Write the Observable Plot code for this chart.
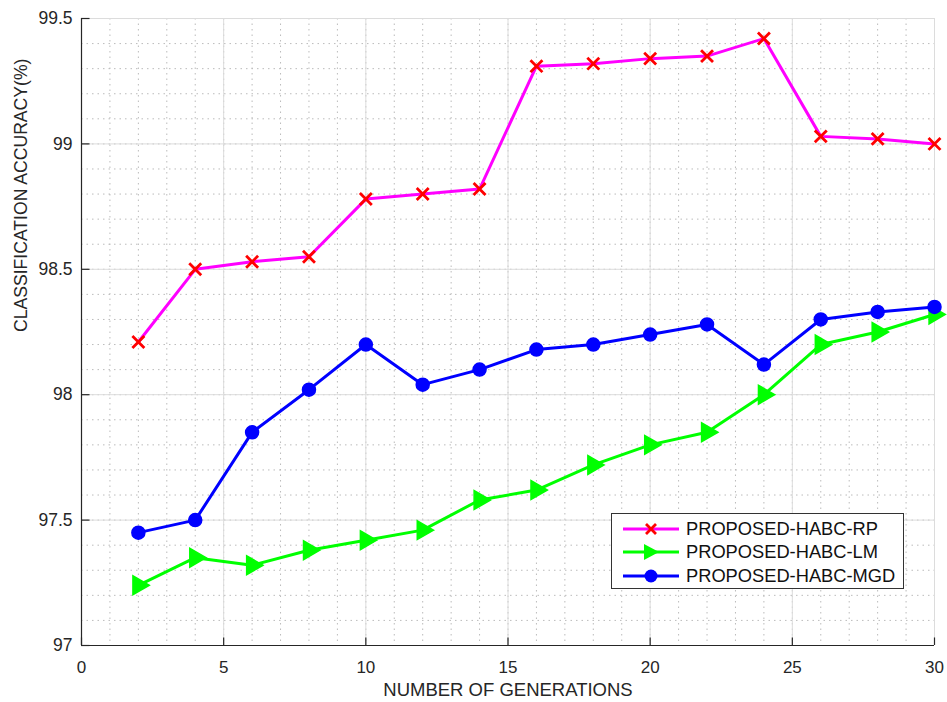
<!DOCTYPE html>
<html>
<head>
<meta charset="utf-8">
<script src="https://cdn.jsdelivr.net/npm/d3@7"></script>
<script src="https://cdn.jsdelivr.net/npm/@observablehq/plot@0.6"></script>
<style>
  html, body { margin: 0; padding: 0; background: #fff; }
  #wrap { position: relative; width: 947px; height: 702px; font-family: "Liberation Sans", Arial, sans-serif; }
  #legend { position: absolute; left: 611px; top: 513px; width: 293px; height: 76px; border: 1px solid #333; background: #fff; box-sizing: border-box; padding-top: 3px; }
  .li { display: flex; align-items: center; height: 23.5px; font-size: 18.3px; color: #111; white-space: nowrap; }
  .li svg { margin-left: 11px; margin-right: 7px; flex: none; }
</style>
</head>
<body>
<div id="wrap"></div>
<script>
const generations = [2,4,6,8,10,12,14,16,18,20,22,24,26,28,30];
const rp  = [98.21,98.50,98.53,98.55,98.78,98.80,98.82,99.31,99.32,99.34,99.35,99.42,99.03,99.02,99.00];
const lm  = [97.24,97.35,97.32,97.38,97.42,97.46,97.58,97.62,97.72,97.80,97.85,98.00,98.20,98.25,98.32];
const mgd = [97.45,97.50,97.85,98.02,98.20,98.04,98.10,98.18,98.20,98.24,98.28,98.12,98.30,98.33,98.35];
const seriesNames = ["PROPOSED-HABC-RP","PROPOSED-HABC-LM","PROPOSED-HABC-MGD"];
const xTicks = [0,5,10,15,20,25,30];
const xTickLabels = ["0","5","10","15","20","25","30"];
const yTicks = [97,97.5,98,98.5,99,99.5];
const yTickLabels = ["97","97.5","98","98.5","99","99.5"];
const xMinor = d3.range(0, 31, 1);
const yMinor = d3.range(97, 99.51, 0.1);

const toRows = (vals) => generations.map((g, i) => ({x: g, y: vals[i]}));
const rpRows = toRows(rp), lmRows = toRows(lm), mgdRows = toRows(mgd);

const chart = Plot.plot({
  width: 947, height: 702,
  marginLeft: 81, marginRight: 13, marginTop: 18, marginBottom: 57,
  style: {fontFamily: "Liberation Sans, Arial, sans-serif", color: "#262626", background: "#fff"},
  x: {domain: [0, 30], axis: null},
  y: {domain: [97, 99.5], axis: null},
  marks: [
    Plot.ruleX(xMinor, {x: d => d, stroke: "#bbb", strokeDasharray: "1.5,4", strokeWidth: 1}),
    Plot.ruleY(yMinor, {y: d => d, stroke: "#bbb", strokeDasharray: "1.5,4", strokeWidth: 1}),
    Plot.ruleX(xTicks, {x: d => d, stroke: "#dcdcdc", strokeWidth: 1}),
    Plot.ruleY(yTicks, {y: d => d, stroke: "#dcdcdc", strokeWidth: 1}),
    Plot.ruleY([97], {stroke: "#262626", strokeWidth: 1.2}),
    Plot.ruleX([0], {stroke: "#262626", strokeWidth: 1.2}),
    Plot.ruleY(yTicks, {y: d => d, x1: 0, x2: 0.3, stroke: "#262626", strokeWidth: 1.2}),
    Plot.ruleX(xTicks, {x: d => d, y1: 97, y2: 97.03, stroke: "#262626", strokeWidth: 1.2}),
    Plot.text(xTicks, {x: d => d, y: 97, text: (d, i) => xTickLabels[i], dy: 22, fontSize: 17, fill: "#262626"}),
    Plot.text(yTicks, {x: 0, y: d => d, text: (d, i) => yTickLabels[i], dx: -9, textAnchor: "end", fontSize: 17.5, fill: "#262626"}),
    Plot.line(rpRows, {x: "x", y: "y", stroke: "#ff00ff", strokeWidth: 3}),
    Plot.line(lmRows, {x: "x", y: "y", stroke: "#00ff00", strokeWidth: 3}),
    Plot.line(mgdRows, {x: "x", y: "y", stroke: "#0000ff", strokeWidth: 3}),
    Plot.dot(rpRows, {x: "x", y: "y", symbol: "times", r: 5.5, stroke: "#ff0000", strokeWidth: 2.8}),
    Plot.dot(lmRows, {x: "x", y: "y", symbol: "triangle2", r: 9, rotate: 90, fill: "#00ff00", stroke: "#00ff00"}),
    Plot.dot(mgdRows, {x: "x", y: "y", symbol: "circle", r: 6.5, fill: "#0000ff", stroke: "#0000ff"}),
    Plot.text(["NUMBER OF GENERATIONS"], {frameAnchor: "bottom", dy: 50, fontSize: 18.5, fill: "#262626"}),
    Plot.text(["CLASSIFICATION ACCURACY(%)"], {frameAnchor: "left", dx: -60, rotate: -90, fontSize: 17.6, fill: "#262626"})
  ]
});
const wrap = document.getElementById("wrap");
wrap.appendChild(chart);

const legend = document.createElement("div");
legend.id = "legend";
const icons = [
  `<line x1="0" y1="8" x2="56" y2="8" stroke="#ff00ff" stroke-width="3"/><path d="M23,3 L33,13 M33,3 L23,13" stroke="#ff0000" stroke-width="2.8"/>`,
  `<line x1="0" y1="8" x2="56" y2="8" stroke="#00ff00" stroke-width="3"/><path d="M21,0 L36,8 L21,16 Z" fill="#00ff00"/>`,
  `<line x1="0" y1="8" x2="56" y2="8" stroke="#0000ff" stroke-width="3"/><circle cx="28" cy="8" r="6.5" fill="#0000ff"/>`
];
seriesNames.forEach((name, i) => {
  const row = document.createElement("div");
  row.className = "li";
  row.innerHTML = `<svg width="56" height="16">${icons[i]}</svg><span>${name}</span>`;
  legend.appendChild(row);
});
wrap.appendChild(legend);
</script>
</body>
</html>
